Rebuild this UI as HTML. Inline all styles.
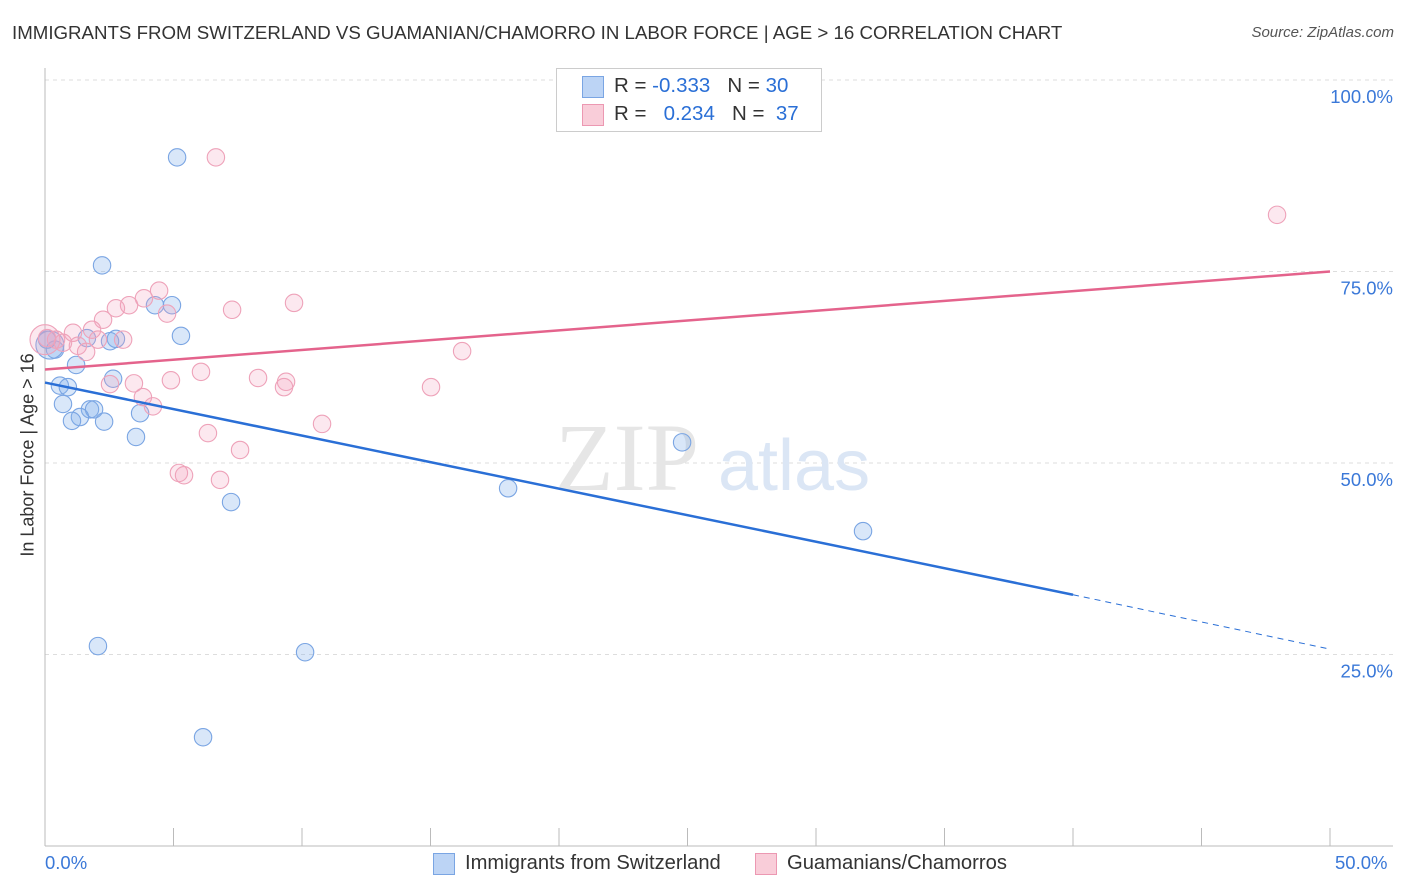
<!DOCTYPE html>
<html><head><meta charset="utf-8"><style>
body{margin:0;background:#fff;font-family:"Liberation Sans",sans-serif;}
#wrap{position:relative;width:1406px;height:892px;overflow:hidden;}
.t{position:absolute;white-space:nowrap;}
</style></head><body><div id="wrap">
<div class="t" style="left:12px;top:22px;font-size:18.7px;color:#333;">IMMIGRANTS FROM SWITZERLAND VS GUAMANIAN/CHAMORRO IN LABOR FORCE | AGE &gt; 16 CORRELATION CHART</div>
<div class="t" style="right:12px;top:24px;font-size:15px;color:#555;font-style:italic;">Source: ZipAtlas.com</div>
<svg id="svg" width="1406" height="892" style="position:absolute;left:0;top:0"></svg>
</div>
<script>
const xTicks=[0,5,10,15,20,25,30,35,40,45,50];
const yTicks=[25,50,75,100];
const yTickLabels=["25.0%","50.0%","75.0%","100.0%"];
const blueX=[5.14,2.22,4.28,4.94,5.29,2.76,2.53,1.63,0.08,0.39,1.21,0.58,0.89,2.65,0.70,1.75,1.91,1.36,1.05,2.30,3.70,3.54,7.24,18.02,24.79,31.83,2.06,10.12,6.15,0.19];
const blueY=[89.9,75.8,70.6,70.6,66.6,66.2,65.9,66.3,66.1,64.8,62.8,60.1,59.9,61.0,57.7,57.0,57.0,56.0,55.5,55.4,56.5,53.4,44.9,46.7,52.7,41.1,26.1,25.3,14.2,65.4];
const pinkX=[6.65,47.94,4.44,3.85,3.27,2.76,9.69,7.28,4.75,2.26,1.83,1.09,3.04,2.06,0.43,0.70,1.28,1.60,0.08,16.23,6.07,4.90,3.46,2.53,8.29,9.38,9.30,15.02,3.81,4.20,10.78,6.34,7.59,5.21,5.41,6.81,0];
const pinkY=[89.9,82.4,72.5,71.5,70.6,70.2,70.9,70.0,69.5,68.7,67.4,67.0,66.1,66.1,66.1,65.7,65.3,64.5,66.3,64.6,61.9,60.8,60.4,60.3,61.1,60.6,59.9,59.9,58.6,57.4,55.1,53.9,51.7,48.7,48.4,47.8,66.1];
const blueTrend=[60.5,32.8,25.7]; // at x=0,40,50
const pinkTrend=[62.2,75.0]; // at x=0,50
const NS="http://www.w3.org/2000/svg";
const svg=document.getElementById('svg');
const X=v=>45+v*25.7, Y=v=>846-v*7.66;
function mk(tag,a){const e=document.createElementNS(NS,tag);for(const k in a)e.setAttribute(k,a[k]);svg.appendChild(e);return e;}
yTicks.forEach((t,i)=>{const g=mk('line',{x1:45,x2:1393,y1:Y(t),y2:Y(t),stroke:'#ddd','stroke-dasharray':'4,4'});


const l=mk('text',{x:1393,y:Y(t)+23,'text-anchor':'end','font-size':18.5,fill:'#3a78d8','font-family':'Liberation Sans'});l.textContent=yTickLabels[i];

});
const ax=mk('line',{x1:45,x2:45,y1:68,y2:846,stroke:'#bbb'});
const bx=mk('line',{x1:45,x2:1393,y1:846,y2:846,stroke:'#bbb'});
xTicks.forEach(t=>{const e=mk('line',{x1:X(t),x2:X(t),y1:828,y2:846,stroke:'#bbb'});

});
const w1=mk('text',{x:555,y:490,'font-size':96,fill:'#e6e6e6','font-family':'Liberation Serif'});w1.textContent='ZIP';
const w2=mk('text',{x:718,y:490,'font-size':72,fill:'#dbe6f5','font-family':'Liberation Sans'});w2.textContent='atlas';
blueX.forEach((x,i)=>{const c=mk('circle',{cx:X(x),cy:Y(blueY[i]),r:i==blueX.length-1?14:8.7,fill:'rgba(130,175,235,0.3)',stroke:'#7aa5e3','stroke-width':1.1});

});
pinkX.forEach((x,i)=>{const c=mk('circle',{cx:X(x),cy:Y(pinkY[i]),r:i==pinkX.length-1?15:8.7,fill:'rgba(245,165,190,0.25)',stroke:'#eea2b9','stroke-width':1.1});

});
const b1=mk('line',{x1:X(0),y1:Y(blueTrend[0]),x2:X(40),y2:Y(blueTrend[1]),stroke:'#2a6fd6','stroke-width':2.5});
const b2=mk('line',{x1:X(40),y1:Y(blueTrend[1]),x2:X(50),y2:Y(blueTrend[2]),stroke:'#2a6fd6','stroke-width':1,'stroke-dasharray':'6,5'});
const p1=mk('line',{x1:X(0),y1:Y(pinkTrend[0]),x2:X(50),y2:Y(pinkTrend[1]),stroke:'#e4638c','stroke-width':2.5});
</script>
<div class="t" style="left:28px;top:455px;font-size:18px;color:#333;transform:translate(-50%,-50%) rotate(-90deg);">In Labor Force | Age &gt; 16</div>
<div class="t" style="left:45px;top:852px;font-size:18.5px;color:#3a78d8;">0.0%</div>
<div class="t" style="left:1335px;top:852px;font-size:18.5px;color:#3a78d8;">50.0%</div>
<div style="position:absolute;left:556px;top:68px;width:264px;height:62px;border:1px solid #ccc;background:#fff;font-size:20.5px;">
 <div style="position:absolute;left:25px;top:7px;width:20px;height:20px;background:#bcd4f5;border:1px solid #7aa5e3;"></div>
 <div class="t" style="left:57px;top:5px;color:#333;">R = <span style="color:#2a6fd6">-0.333</span>&nbsp;&nbsp;&nbsp;N = <span style="color:#2a6fd6">30</span></div>
 <div style="position:absolute;left:25px;top:35px;width:20px;height:20px;background:#f9cdd9;border:1px solid #ec98b2;"></div>
 <div class="t" style="left:57px;top:33px;color:#333;">R = &nbsp;&nbsp;<span style="color:#2a6fd6">0.234</span>&nbsp;&nbsp;&nbsp;N = &nbsp;<span style="color:#2a6fd6">37</span></div>
</div>
<div style="position:absolute;left:433px;top:852px;font-size:20.2px;color:#333;">
 <div style="position:absolute;left:0;top:1px;width:20px;height:20px;background:#bcd4f5;border:1px solid #7aa5e3;"></div>
 <div class="t" style="left:32px;top:0;">Immigrants from Switzerland</div></div>
<div style="position:absolute;left:755px;top:852px;font-size:20.2px;color:#333;">
 <div style="position:absolute;left:0;top:1px;width:20px;height:20px;background:#f9cdd9;border:1px solid #ec98b2;"></div>
 <div class="t" style="left:32px;top:0;">Guamanians/Chamorros</div></div>
</body></html>
